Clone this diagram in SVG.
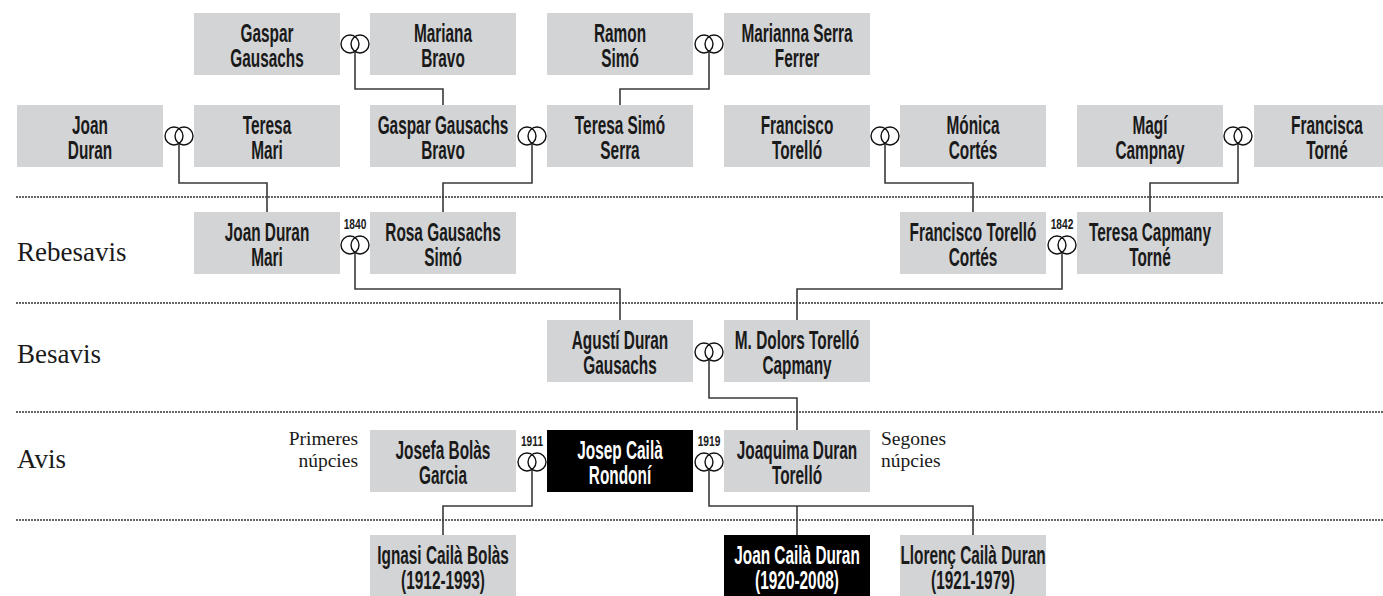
<svg xmlns="http://www.w3.org/2000/svg" width="1383" height="596" viewBox="0 0 1383 596">
<defs>
<style>
.box{fill:#d3d4d6}
.dark{fill:#000}
.nt{font-family:"Liberation Sans",Arial,sans-serif;font-weight:700;font-size:25px;fill:#1a1a1a;text-anchor:middle}
.w{fill:#fff}
.yr{font-family:"Liberation Sans",Arial,sans-serif;font-weight:700;font-size:15px;fill:#1a1a1a;text-anchor:middle}
.lbl{font-family:"Liberation Serif","Times New Roman",serif;font-size:27px;fill:#1a1a1a}
.sm{font-family:"Liberation Serif","Times New Roman",serif;font-size:19.5px;fill:#1a1a1a}
.sep{stroke:#333;stroke-width:2;stroke-dasharray:0 3;stroke-linecap:round;fill:none}
.con{stroke:#3a3a3a;stroke-width:1.6;fill:none}
.ring{stroke:#111;stroke-width:1.4;fill:none}
</style>
<g id="rings"><circle class="ring" cx="-5" cy="0" r="9"/><circle class="ring" cx="5" cy="0" r="9"/></g>
</defs>
<rect width="1383" height="596" fill="#fff"/>

<g id="separators">
<line class="sep" x1="17" y1="197" x2="1383" y2="197"/>
<line class="sep" x1="17" y1="303" x2="1383" y2="303"/>
<line class="sep" x1="17" y1="412" x2="1383" y2="412"/>
<line class="sep" x1="17" y1="520" x2="1383" y2="520"/>
</g>

<g id="labels">
<text class="lbl" x="17" y="261">Rebesavis</text>
<text class="lbl" x="17" y="363">Besavis</text>
<text class="lbl" x="17" y="468">Avis</text>
<text class="sm" x="358" y="445" text-anchor="end">Primeres</text>
<text class="sm" x="358" y="467" text-anchor="end">núpcies</text>
<text class="sm" x="881" y="445">Segones</text>
<text class="sm" x="881" y="467">núpcies</text>
</g>

<g id="connectors">
<path class="con" d="M355 52V89H443V105"/>
<path class="con" d="M709 52V89H620V105"/>
<path class="con" d="M179 144V183H267V212"/>
<path class="con" d="M532 144V183H443V212"/>
<path class="con" d="M885 144V183H973V212"/>
<path class="con" d="M1238 144V183H1150V212"/>
<path class="con" d="M355 253V289H620V320"/>
<path class="con" d="M1062 253V289H797V320"/>
<path class="con" d="M709 360V398H797V430"/>
<path class="con" d="M532 470V506H443V535"/>
<path class="con" d="M709 470V506H973V535M797 506V535"/>
<use href="#rings" x="355" y="44"/>
<use href="#rings" x="709" y="44"/>
<use href="#rings" x="179" y="136"/>
<use href="#rings" x="532" y="136"/>
<use href="#rings" x="885" y="136"/>
<use href="#rings" x="1238" y="136"/>
<use href="#rings" x="355" y="245"/>
<use href="#rings" x="1062" y="245"/>
<use href="#rings" x="709" y="352"/>
<use href="#rings" x="532" y="462"/>
<use href="#rings" x="709" y="462"/>
<text class="yr" transform="translate(355 229) scale(0.68 1)">1840</text>
<text class="yr" transform="translate(1062 229) scale(0.68 1)">1842</text>
<text class="yr" transform="translate(532 446) scale(0.68 1)">1911</text>
<text class="yr" transform="translate(709 446) scale(0.68 1)">1919</text>
</g>

<g id="n-gaspar-gausachs"><rect class="box" x="194" y="13" width="146" height="62"/>
<text class="nt" transform="translate(267 0) scale(0.615 1)"><tspan x="0" y="42">Gaspar</tspan><tspan x="0" y="67">Gausachs</tspan></text></g>
<g id="n-mariana-bravo"><rect class="box" x="370" y="13" width="146" height="62"/>
<text class="nt" transform="translate(443 0) scale(0.615 1)"><tspan x="0" y="42">Mariana</tspan><tspan x="0" y="67">Bravo</tspan></text></g>
<g id="n-ramon-simo"><rect class="box" x="547" y="13" width="146" height="62"/>
<text class="nt" transform="translate(620 0) scale(0.615 1)"><tspan x="0" y="42">Ramon</tspan><tspan x="0" y="67">Simó</tspan></text></g>
<g id="n-marianna-serra"><rect class="box" x="724" y="13" width="146" height="62"/>
<text class="nt" transform="translate(797 0) scale(0.615 1)"><tspan x="0" y="42">Marianna Serra</tspan><tspan x="0" y="67">Ferrer</tspan></text></g>

<g id="n-joan-duran"><rect class="box" x="17" y="105" width="146" height="62"/>
<text class="nt" transform="translate(90 0) scale(0.615 1)"><tspan x="0" y="134">Joan</tspan><tspan x="0" y="159">Duran</tspan></text></g>
<g id="n-teresa-mari"><rect class="box" x="194" y="105" width="146" height="62"/>
<text class="nt" transform="translate(267 0) scale(0.615 1)"><tspan x="0" y="134">Teresa</tspan><tspan x="0" y="159">Mari</tspan></text></g>
<g id="n-gaspar-gausachs-bravo"><rect class="box" x="370" y="105" width="146" height="62"/>
<text class="nt" transform="translate(443 0) scale(0.615 1)"><tspan x="0" y="134">Gaspar Gausachs</tspan><tspan x="0" y="159">Bravo</tspan></text></g>
<g id="n-teresa-simo-serra"><rect class="box" x="547" y="105" width="146" height="62"/>
<text class="nt" transform="translate(620 0) scale(0.615 1)"><tspan x="0" y="134">Teresa Simó</tspan><tspan x="0" y="159">Serra</tspan></text></g>
<g id="n-francisco-torello"><rect class="box" x="724" y="105" width="146" height="62"/>
<text class="nt" transform="translate(797 0) scale(0.615 1)"><tspan x="0" y="134">Francisco</tspan><tspan x="0" y="159">Torelló</tspan></text></g>
<g id="n-monica-cortes"><rect class="box" x="900" y="105" width="146" height="62"/>
<text class="nt" transform="translate(973 0) scale(0.615 1)"><tspan x="0" y="134">Mónica</tspan><tspan x="0" y="159">Cortés</tspan></text></g>
<g id="n-magi-campnay"><rect class="box" x="1077" y="105" width="146" height="62"/>
<text class="nt" transform="translate(1150 0) scale(0.615 1)"><tspan x="0" y="134">Magí</tspan><tspan x="0" y="159">Campnay</tspan></text></g>
<g id="n-francisca-torne"><rect class="box" x="1254" y="105" width="146" height="62"/>
<text class="nt" transform="translate(1327 0) scale(0.615 1)"><tspan x="0" y="134">Francisca</tspan><tspan x="0" y="159">Torné</tspan></text></g>

<g id="n-joan-duran-mari"><rect class="box" x="194" y="212" width="146" height="62"/>
<text class="nt" transform="translate(267 0) scale(0.615 1)"><tspan x="0" y="241">Joan Duran</tspan><tspan x="0" y="266">Mari</tspan></text></g>
<g id="n-rosa-gausachs-simo"><rect class="box" x="370" y="212" width="146" height="62"/>
<text class="nt" transform="translate(443 0) scale(0.615 1)"><tspan x="0" y="241">Rosa Gausachs</tspan><tspan x="0" y="266">Simó</tspan></text></g>
<g id="n-francisco-torello-cortes"><rect class="box" x="900" y="212" width="146" height="62"/>
<text class="nt" transform="translate(973 0) scale(0.615 1)"><tspan x="0" y="241">Francisco Torelló</tspan><tspan x="0" y="266">Cortés</tspan></text></g>
<g id="n-teresa-capmany-torne"><rect class="box" x="1077" y="212" width="146" height="62"/>
<text class="nt" transform="translate(1150 0) scale(0.615 1)"><tspan x="0" y="241">Teresa Capmany</tspan><tspan x="0" y="266">Torné</tspan></text></g>

<g id="n-agusti-duran-gausachs"><rect class="box" x="547" y="320" width="146" height="62"/>
<text class="nt" transform="translate(620 0) scale(0.615 1)"><tspan x="0" y="349">Agustí Duran</tspan><tspan x="0" y="374">Gausachs</tspan></text></g>
<g id="n-m-dolors-torello-capmany"><rect class="box" x="724" y="320" width="146" height="62"/>
<text class="nt" transform="translate(797 0) scale(0.615 1)"><tspan x="0" y="349">M. Dolors Torelló</tspan><tspan x="0" y="374">Capmany</tspan></text></g>

<g id="n-josefa-bolas-garcia"><rect class="box" x="370" y="430" width="146" height="62"/>
<text class="nt" transform="translate(443 0) scale(0.615 1)"><tspan x="0" y="459">Josefa Bolàs</tspan><tspan x="0" y="484">Garcia</tspan></text></g>
<g id="n-josep-caila-rondoni"><rect class="dark" x="547" y="430" width="146" height="62"/>
<text class="nt w" transform="translate(620 0) scale(0.615 1)"><tspan x="0" y="459">Josep Cailà</tspan><tspan x="0" y="484">Rondoní</tspan></text></g>
<g id="n-joaquima-duran-torello"><rect class="box" x="724" y="430" width="146" height="62"/>
<text class="nt" transform="translate(797 0) scale(0.615 1)"><tspan x="0" y="459">Joaquima Duran</tspan><tspan x="0" y="484">Torelló</tspan></text></g>

<g id="n-ignasi-caila-bolas"><rect class="box" x="370" y="535" width="146" height="62"/>
<text class="nt" transform="translate(443 0) scale(0.615 1)"><tspan x="0" y="564">Ignasi Cailà Bolàs</tspan><tspan x="0" y="589">(1912-1993)</tspan></text></g>
<g id="n-joan-caila-duran"><rect class="dark" x="724" y="535" width="146" height="62"/>
<text class="nt w" transform="translate(797 0) scale(0.615 1)"><tspan x="0" y="564">Joan Cailà Duran</tspan><tspan x="0" y="589">(1920-2008)</tspan></text></g>
<g id="n-llorenc-caila-duran"><rect class="box" x="900" y="535" width="146" height="62"/>
<text class="nt" transform="translate(973 0) scale(0.615 1)"><tspan x="0" y="564">Llorenç Cailà Duran</tspan><tspan x="0" y="589">(1921-1979)</tspan></text></g>
</svg>
